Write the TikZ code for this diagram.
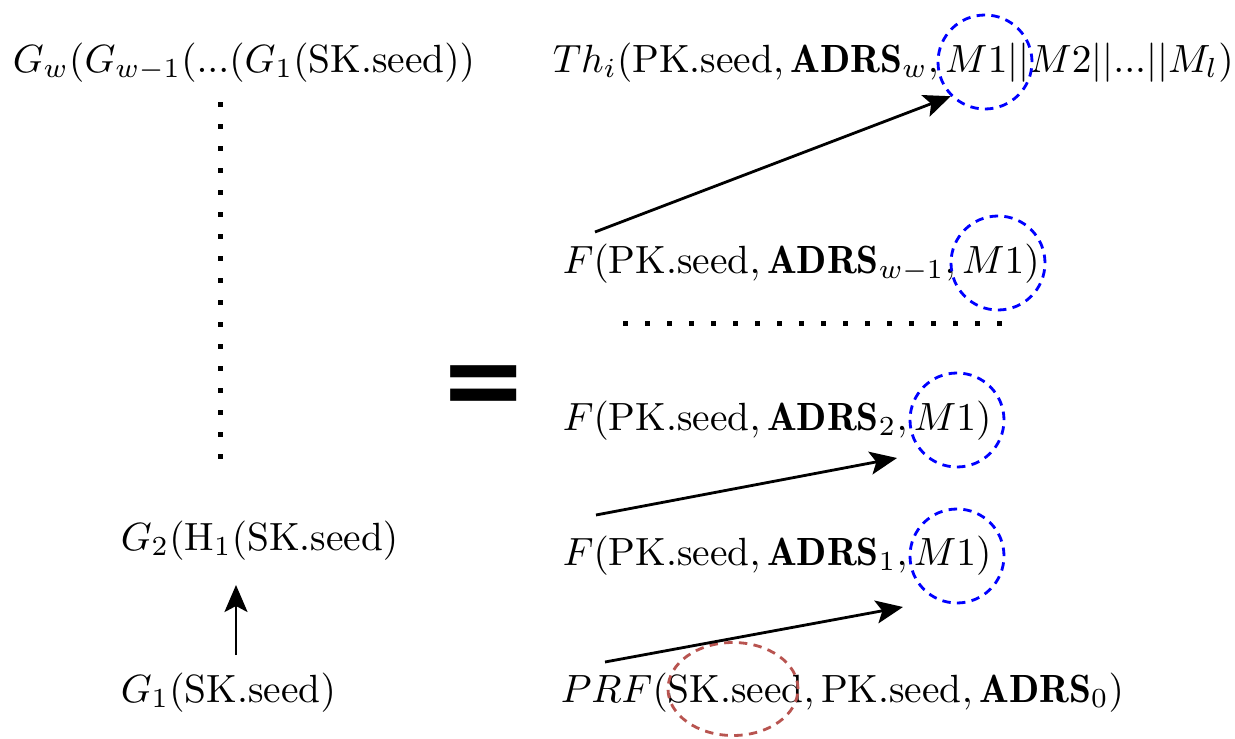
\documentclass[tikz,border=0pt]{standalone}
\usepackage{amsmath}
\usepackage{fontspec}
\usepackage{tikz}
\usetikzlibrary{arrows.meta}
\newfontfamily\eqfont{DejaVu Sans}[BoldFont={DejaVu Sans Bold}]
\definecolor{seedred}{HTML}{B85450}
\tikzset{
    txt/.style={anchor=base west, inner sep=0pt, scale=1.12, transform shape},
    arr/.style={-{Stealth[length=2.7mm, width=2.3mm, inset=0.6mm]}, line width=0.8pt},
    msg/.style={circle, draw=blue, dashed, dash pattern=on 2.4pt off 1.8pt, line width=0.8pt, minimum size=0.94cm, inner sep=0pt},
    dotline/.style={line width=0.05cm, dash pattern=on 0.05cm off 0.17cm},
}

\begin{document}
\begin{tikzpicture}
        \useasboundingbox (0,0) rectangle (12.35,-7.39);

        % chain of G's
        \node[txt] (gw) at (0.12,-0.72) {$G_w(G_{w-1}(...(G_1(\text{SK.seed}))$};
        \node[txt] (g2) at (1.20,-5.50) {$G_2(\mathrm{H}_1(\text{SK.seed})$};
        \node[txt] (g1) at (1.20,-7.02) {$G_1(\text{SK.seed})$};
        \draw[dotline] (2.20,-1.02) -- (2.20,-4.62);

        \coordinate (up0) at (2.36,-6.55);
        \coordinate (up1) at (2.36,-5.85);
        \draw[arr] (up0) -- (up1);

        \node[font=\eqfont\bfseries\fontsize{30}{30}\selectfont, inner sep=0pt] (eq) at (4.835,-3.91) {=};

        % chain of F's
        \node[txt] (th) at (5.52,-0.72) {$Th_i(\text{PK.seed}, \mathbf{ADRS}_w, M1||M2||...||M_l)$};
        \node[txt] (fw) at (5.62,-2.73) {$F(\text{PK.seed}, \mathbf{ADRS}_{w-1}, M1)$};
        \draw[dotline] (6.23,-3.23) -- (10.04,-3.23);
        \node[txt] (f2) at (5.62,-4.30) {$F(\text{PK.seed}, \mathbf{ADRS}_2, M1)$};
        \node[txt] (f1) at (5.62,-5.65) {$F(\text{PK.seed}, \mathbf{ADRS}_1, M1)$};
        \node[txt] (prf) at (5.60,-7.02) {$PRF(\text{SK.seed}, \text{PK.seed}, \mathbf{ADRS}_0)$};

        \node[msg] (cw) at (9.85,-0.62) {};
        \node[msg] (cw1) at (9.98,-2.63) {};
        \node[msg] (c2) at (9.57,-4.20) {};
        \node[msg] (c1) at (9.57,-5.56) {};
        \draw[seedred, dashed, dash pattern=on 2.4pt off 1.8pt, line width=0.8pt] (7.33,-6.89) ellipse (0.65 and 0.465);

        \coordinate (s0) at (6.05,-6.62);
        \coordinate (e0) at (9.03,-6.07);
        \coordinate (s1) at (5.96,-5.15);
        \coordinate (e1) at (8.97,-4.58);
        \coordinate (s2) at (5.95,-2.32);
        \draw[arr] (s0) -- (e0);
        \draw[arr] (s1) -- (e1);
        \draw[arr] (s2) -- (cw.225);

    \end{tikzpicture}
\end{document}
